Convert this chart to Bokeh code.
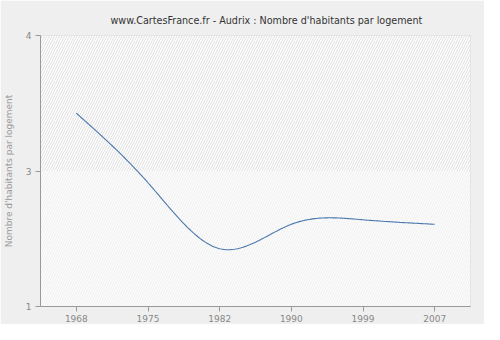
import numpy as np
from bokeh.plotting import figure
from bokeh.models import FixedTicker, BoxAnnotation, Range1d
from bokeh.embed import file_html
from bokeh.resources import INLINE

# ---- data ----
years = ["1968", "1975", "1982", "1990", "1999", "2007"]
values = [3.14, 2.37, 1.64, 1.91, 1.96, 1.91]
y_ticks = [1, 2.5, 4]
y_tick_labels = ["1", "3", "4"]
title = "www.CartesFrance.fr - Audrix : Nombre d'habitants par logement"
y_label = "Nombre d'habitants par logement"

# ---- natural cubic spline for a smooth rendering of the series ----
def natural_spline(xs, ys, n_per=40):
    xs = np.asarray(xs, float)
    ys = np.asarray(ys, float)
    n = len(xs)
    h = np.diff(xs)
    A = np.zeros((n, n))
    b = np.zeros(n)
    A[0, 0] = 1
    A[-1, -1] = 1
    for i in range(1, n - 1):
        A[i, i - 1] = h[i - 1]
        A[i, i] = 2 * (h[i - 1] + h[i])
        A[i, i + 1] = h[i]
        b[i] = 6 * ((ys[i + 1] - ys[i]) / h[i] - (ys[i] - ys[i - 1]) / h[i - 1])
    M = np.linalg.solve(A, b)
    out_x, out_y = [], []
    for i in range(n - 1):
        t = np.linspace(xs[i], xs[i + 1], n_per, endpoint=(i == n - 2))
        a = xs[i + 1] - t
        c = t - xs[i]
        y = (M[i] * a ** 3 + M[i + 1] * c ** 3) / (6 * h[i]) \
            + (ys[i] / h[i] - M[i] * h[i] / 6) * a \
            + (ys[i + 1] / h[i] - M[i + 1] * h[i] / 6) * c
        out_x.extend(t)
        out_y.extend(y)
    return out_x, out_y

xi = list(range(len(years)))
sx, sy = natural_spline(xi, values)

FONT = "DejaVu Sans"

p = figure(width=484, height=324, output_backend="svg", toolbar_location=None,
           x_range=Range1d(-0.5, len(years) - 0.5), y_range=Range1d(y_ticks[0], y_ticks[-1]),
           min_border_left=40, min_border_right=14, min_border_top=35, min_border_bottom=18)

p.background_fill_color = "white"
p.border_fill_color = "#efefef"
p.outline_line_color = "#dddddd"

# hatched background bands
p.add_layout(BoxAnnotation(bottom=y_ticks[1], fill_color="white", fill_alpha=1,
                           hatch_pattern="/", hatch_color="#dedede", hatch_scale=5,
                           hatch_weight=1, line_alpha=0, level="underlay"))
p.add_layout(BoxAnnotation(top=y_ticks[1], fill_color="#fcfcfc", fill_alpha=1,
                           hatch_pattern="/", hatch_color="#efefef", hatch_scale=5,
                           hatch_weight=1, line_alpha=0, level="underlay"))

p.line(sx, sy, line_color="#4a78ae", line_width=1.1)

# title
p.title.text = title
p.title.align = "left"
p.title.offset = 70
p.title.standoff = 19
p.title.text_font = FONT
p.title.text_font_size = "9.6px"
p.title.text_font_style = "normal"
p.title.text_color = "#333333"

# axes
p.xaxis.ticker = FixedTicker(ticks=xi)
p.xaxis.major_label_overrides = {i: y for i, y in zip(xi, years)}
p.yaxis.ticker = FixedTicker(ticks=y_ticks)
p.yaxis.major_label_overrides = {t: l for t, l in zip(y_ticks, y_tick_labels)}
p.yaxis.axis_label = y_label

for ax in (p.xaxis, p.yaxis):
    ax.axis_line_color = "#999999"
    ax.major_tick_line_color = "#999999"
    ax.major_tick_out = 5
    ax.major_tick_in = 0
    ax.minor_tick_line_color = None
    ax.major_label_text_font = FONT
    ax.major_label_text_font_size = "9px"
    ax.major_label_text_color = "#888888"
    ax.major_label_standoff = 4
    ax.axis_label_text_font = FONT
    ax.axis_label_text_font_size = "9px"
    ax.axis_label_text_font_style = "normal"
    ax.axis_label_text_color = "#999999"
p.xaxis.major_label_standoff = 3
p.yaxis.axis_label_standoff = 9

for g in (p.xgrid, p.ygrid):
    g.grid_line_color = "#e2e2e2"
    g.grid_line_dash = "3 3"
    g.grid_line_width = 1
p.xgrid.ticker = FixedTicker(ticks=xi)
p.ygrid.ticker = FixedTicker(ticks=y_ticks)

open("out.html", "w").write(file_html(p, INLINE))
